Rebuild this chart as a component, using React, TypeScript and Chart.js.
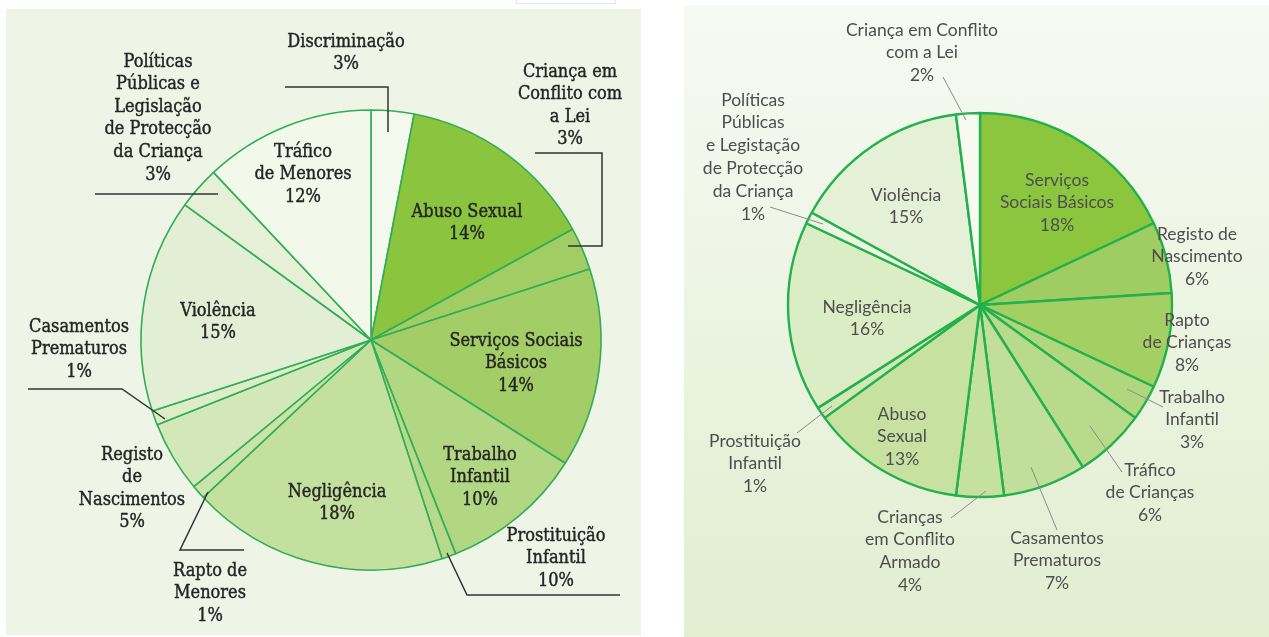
import React, { useEffect, useRef } from "react";
import { Chart, registerables } from "chart.js";

Chart.register(...registerables);

// ---------- Left chart data (clockwise from 12 o'clock) ----------
const leftCategories = [
  "Discriminação",
  "Abuso Sexual",
  "Criança em\nConflito com\na Lei",
  "Serviços Sociais\nBásicos",
  "Trabalho\nInfantil",
  "Prostituição\nInfantil",
  "Negligência",
  "Rapto de\nMenores",
  "Registo\nde\nNascimentos",
  "Casamentos\nPrematuros",
  "Violência",
  "Políticas\nPúblicas e\nLegislação\nde Protecção\nda Criança",
  "Tráfico\nde Menores",
];
// slice sizes as drawn
const leftValues = [3, 14, 3, 14, 10, 1, 18, 1, 5, 1, 15, 3, 12];
// percentages as printed on the chart
const leftPrinted = ["3%", "14%", "3%", "14%", "10%", "10%", "18%", "1%", "5%", "1%", "15%", "3%", "12%"];
const leftColors = [
  "#f4f9ee", "#8bc43f", "#a1cd64", "#a3ce67", "#b2d783", "#b6d98a", "#c4e09f",
  "#cae3a9", "#d3e8b8", "#dcedc8", "#e3efd4", "#e5f0d7", "#f2f8ea",
];

// ---------- Right chart data (clockwise from 12 o'clock) ----------
const rightCategories = [
  "Serviços\nSociais Básicos",
  "Registo de\nNascimento",
  "Rapto\nde Crianças",
  "Trabalho\nInfantil",
  "Tráfico\nde Crianças",
  "Casamentos\nPrematuros",
  "Crianças\nem Conflito\nArmado",
  "Abuso\nSexual",
  "Prostituição\nInfantil",
  "Negligência",
  "Políticas\nPúblicas\ne Legistação\nde Protecção\nda Criança",
  "Violência",
  "Criança em Conflito\ncom a Lei",
];
const rightValues = [18, 6, 8, 3, 6, 7, 4, 13, 1, 16, 1, 15, 2];
const rightPrinted = ["18%", "6%", "8%", "3%", "6%", "7%", "4%", "13%", "1%", "16%", "1%", "15%", "2%"];
const rightColors = [
  "#8cc63f", "#a0cd61", "#a3cf63", "#b0d67e", "#b8da8b", "#c1df9a", "#c5e19f",
  "#c6e1a0", "#d3e8b7", "#dbedc4", "#ecf5e1", "#e5f1d7", "#f6faf1",
];

// ---------- Label layout (offsets from pie centre, px) ----------
type Lay = { dx: number; dy: number; leader?: number[][] };
const leftLayout: Lay[] = [
  { dx: -25, dy: -298, leader: [[-86, -253], [17, -253], [17, -208]] },
  { dx: 96, dy: -128 },
  { dx: 199, dy: -268, leader: [[164, -187], [231, -187], [231, -94], [197, -94]] },
  { dx: 145, dy: 1 },
  { dx: 109, dy: 115 },
  { dx: 185, dy: 196, leader: [[76, 213], [96, 255], [249, 255]] },
  { dx: -34, dy: 152 },
  { dx: -161, dy: 231, leader: [[-163, 152], [-191, 210], [-127, 210]] },
  { dx: -239, dy: 115 },
  { dx: -292, dy: -13, leader: [[-206, 79], [-249, 49], [-343, 49]] },
  { dx: -153, dy: -29 },
  { dx: -213, dy: -278, leader: [[-276, -146], [-153, -146]] },
  { dx: -68, dy: -188 },
];
const rightLayout: Lay[] = [
  { dx: 77, dy: -125 },
  { dx: 217, dy: -71 },
  { dx: 207, dy: 15 },
  { dx: 212, dy: 92, leader: [[147, 84], [183, 102]] },
  { dx: 170, dy: 165, leader: [[110, 121], [142, 167]] },
  { dx: 77, dy: 233, leader: [[51, 162], [77, 225]] },
  { dx: -70, dy: 212, leader: [[6, 186], [-29, 213]] },
  { dx: -78, dy: 109 },
  { dx: -225, dy: 136, leader: [[-183, 128], [-148, 101]] },
  { dx: -113, dy: 2 },
  { dx: -227, dy: -205, leader: [[-210, -98], [-157, -81]] },
  { dx: -74, dy: -110 },
  { dx: -58, dy: -275, leader: [[-37, -228], [-14, -185]] },
];

const sliceLabels = {
  id: "sliceLabels",
  afterDatasetsDraw(chart: any, _args: any, o: any) {
    const ctx = chart.ctx;
    const meta = chart.getDatasetMeta(0);
    if (!meta.data.length) return;
    const cx = meta.data[0].x;
    const cy = meta.data[0].y;
    const labels: string[] = chart.data.labels;
    ctx.save();
    // leaders
    ctx.strokeStyle = o.leaderColor;
    ctx.lineWidth = o.leaderWidth;
    o.layout.forEach((l: Lay) => {
      if (!l.leader) return;
      ctx.beginPath();
      l.leader.forEach((p, i) => {
        if (i === 0) ctx.moveTo(cx + p[0], cy + p[1]);
        else ctx.lineTo(cx + p[0], cy + p[1]);
      });
      ctx.stroke();
    });
    // text
    ctx.fillStyle = o.color;
    ctx.font = o.font;
    ctx.textAlign = "center";
    ctx.textBaseline = "middle";
    if (o.stroke) {
      ctx.strokeStyle = o.color;
      ctx.lineWidth = o.stroke;
      ctx.lineJoin = "round";
    }
    labels.forEach((name, i) => {
      const l: Lay = o.layout[i];
      const lines = name.split("\n").concat([o.printed[i]]);
      lines.forEach((t, j) => {
        const x = cx + l.dx;
        const y = cy + l.dy + j * o.lineHeight;
        if (o.stroke) ctx.strokeText(t, x, y);
        ctx.fillText(t, x, y);
      });
    });
    ctx.restore();
  },
};

function PieChart(props: {
  left: number; top: number; width: number; height: number;
  padding: any; radius: number;
  labels: string[]; values: number[]; colors: string[];
  border: string; borderWidth: number;
  labelOpts: any;
}) {
  const ref = useRef<HTMLCanvasElement | null>(null);
  useEffect(() => {
    if (!ref.current) return;
    const chart = new Chart(ref.current, {
      type: "pie",
      data: {
        labels: props.labels,
        datasets: [
          {
            data: props.values,
            backgroundColor: props.colors,
            borderColor: props.border,
            borderWidth: props.borderWidth,
            radius: props.radius,
          } as any,
        ],
      },
      options: {
        responsive: false,
        animation: false,
        devicePixelRatio: 1,
        layout: { padding: props.padding },
        plugins: {
          legend: { display: false },
          tooltip: { enabled: false },
          sliceLabels: props.labelOpts,
        } as any,
      },
      plugins: [sliceLabels],
    });
    return () => chart.destroy();
  }, []);
  return (
    <canvas
      ref={ref}
      width={props.width}
      height={props.height}
      style={{ position: "absolute", left: props.left, top: props.top, display: "block" }}
    />
  );
}

export default function App() {
  return (
    <div
      style={{
        position: "fixed",
        left: 0,
        top: 0,
        width: 1269,
        height: 637,
        background: "#ffffff",
        overflow: "hidden",
      }}
    >
      <div style={{ position: "absolute", left: 516, top: -2, width: 98, height: 4, border: "1px solid #e6e6e6", background: "#fff" }} />
      <div style={{ position: "absolute", left: 6, top: 9, width: 635, height: 626, background: "#eef5e6" }} />
      <div
        style={{
          position: "absolute",
          left: 684,
          top: 5,
          width: 585,
          height: 632,
          background: "linear-gradient(#f7faf3, #e1eed0)",
        }}
      />
      <PieChart
        left={0}
        top={0}
        width={641}
        height={637}
        padding={{ left: 101, top: 43, right: 0, bottom: 0 }}
        radius={230}
        labels={leftCategories}
        values={leftValues}
        colors={leftColors}
        border="#31ad57"
        borderWidth={1.6}
        labelOpts={{
          layout: leftLayout,
          printed: leftPrinted,
          font: "18px 'DejaVu Serif Condensed', 'DejaVu Serif', serif",
          color: "#252525",
          stroke: 0.4,
          lineHeight: 22.6,
          leaderColor: "#333333",
          leaderWidth: 1.5,
        }}
      />
      <PieChart
        left={641}
        top={0}
        width={628}
        height={637}
        padding={{ left: 50, top: 0, right: 0, bottom: 27 }}
        radius={192}
        labels={rightCategories}
        values={rightValues}
        colors={rightColors}
        border="#22b14c"
        borderWidth={2.4}
        labelOpts={{
          layout: rightLayout,
          printed: rightPrinted,
          font: "17.5px Lato, 'Open Sans', sans-serif",
          color: "#4e4e4e",
          lineHeight: 22.8,
          leaderColor: "#8a8a8a",
          leaderWidth: 1,
        }}
      />
    </div>
  );
}
